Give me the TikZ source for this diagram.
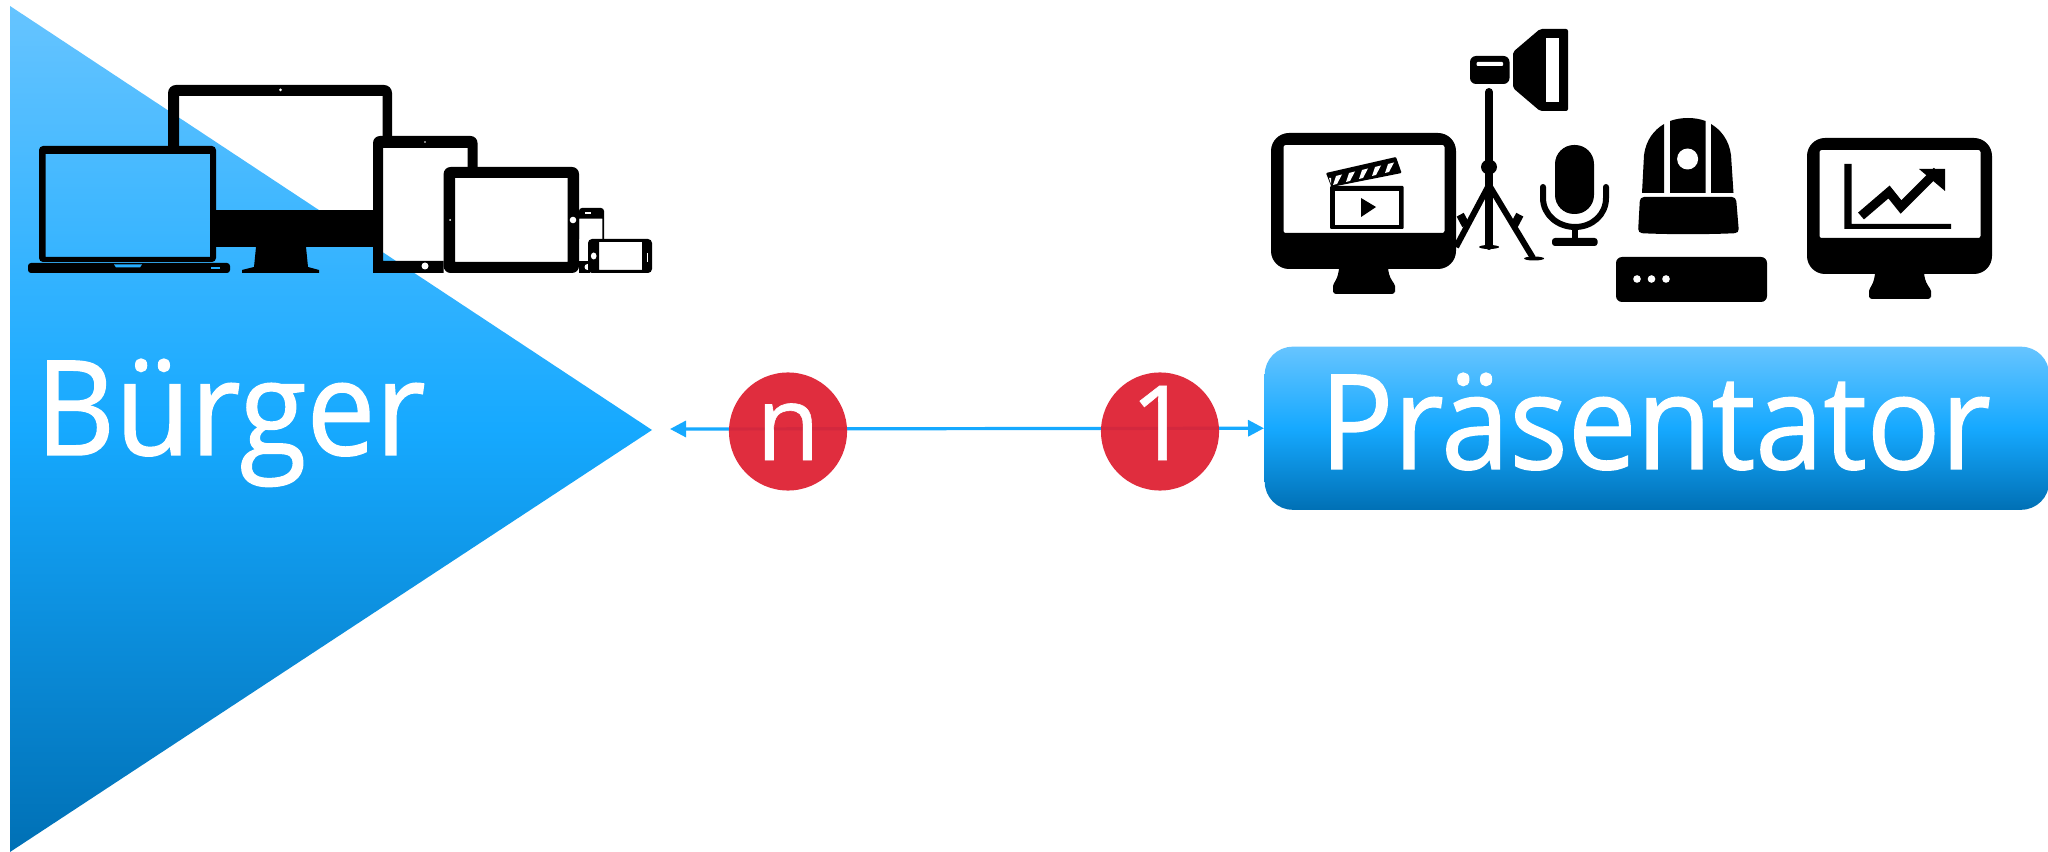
\documentclass[tikz,border=0pt]{standalone}
\usepackage{fontspec}
\setmainfont{Open Sans}
\newfontfamily\wordface[FakeBold=1,FakeStretch=0.93]{Open Sans}
\newfontfamily\badgeface[FakeBold=0.6]{Open Sans}
\usetikzlibrary{arrows.meta}
\definecolor{bluetop}{HTML}{66C4FF}
\definecolor{bluemid}{HTML}{16A9FF}
\definecolor{bluelow}{HTML}{0070B5}
\definecolor{badgered}{HTML}{DE2234}
\tikzset{
    bigword/.style={text=white,font=\wordface\fontsize{37.5}{40}\selectfont,inner sep=0pt,anchor=base west},
    badge/.style={circle,fill=badgered,fill opacity=0.95,text opacity=1,text=white,minimum size=1.18cm,inner sep=0pt,
        text height=0.57cm,text depth=0pt,font=\badgeface\fontsize{29.5}{32}\selectfont},
    linkline/.style={bluemid,line width=0.032cm,<->,>={Triangle[length=0.16cm,width=0.16cm]}},
    hole/.style={fill=white},
    monitor/.pic={
        \fill[even odd rule,rounded corners=0.18cm] (0,0) rectangle (185,136)
            [rounded corners=0.02cm] (12.5,12) rectangle (173.5,100);
        \fill[rounded corners=0.03cm] (68,130) .. controls (68,146) and (62,150) .. (62,156) -- (62,161) -- (124,161) -- (124,156)
            .. controls (124,150) and (117,146) .. (117,130) -- cycle;
    }
}
\begin{document}
\begin{tikzpicture}[x=0.01cm,y=-0.01cm]
    \useasboundingbox (0,0) rectangle (2048,852);
    \shade[top color=bluetop,bottom color=bluelow,middle color=bluemid] (10,6) -- (652,430) -- (10,852) -- cycle;
    \node[bigword] (buerger) at (35,455) {Bürger};

    \fill[rounded corners=0.08cm] (168,146) -- (168,85) -- (392,85) [sharp corners] -- (392,136) -- (382.5,136) -- (382.5,96) -- (179,96) -- (179,146) -- cycle;
    \fill (216,210) rectangle (373,247);
    \fill (256,247) -- (306,247) -- (308,267) -- (319,270) -- (319,273) -- (242,273) -- (242,270) -- (254,267) -- cycle;
    \fill[hole] (280.5,90) circle[radius=1.5];
    \fill[even odd rule,rounded corners=0.04cm] (39,146) rectangle (216,262) [sharp corners] (45.5,154) rectangle (210,257);
    \fill[rounded corners=0.03cm] (28,263) rectangle (230,273);
    \fill[bluemid!80!bluetop] (114,264.5) -- (142,264.5) -- (140,267.5) -- (116,267.5) -- cycle;
    \fill[bluemid!80!bluetop] (211,267) rectangle (220,269);

    \fill[rounded corners=0.07cm] (373,273) -- (373,136) -- (477.5,136) [sharp corners] -- (477.5,167) -- (467.5,167) -- (467.5,148) -- (383,148) -- (383,261) -- (443.6,261) -- (443.6,273) -- cycle;
    \fill[hole] (425,266) ellipse[x radius=3.5,y radius=3.5];
    \fill[hole] (425,142) circle[radius=0.8];
    \fill[even odd rule,rounded corners=0.07cm] (443.6,167) rectangle (579,273) [sharp corners] (455,178) rectangle (567.7,262);
    \fill[hole] (573,220) circle[radius=3.3];
    \fill[hole] (450,220) circle[radius=1];
    \fill[rounded corners=0.03cm] (579,239) -- (579,208) -- (604,208) [sharp corners] -- (604,239) -- (602.4,239) -- (602.4,218.7) -- (579,218.7) -- cycle;
    \fill[hole] (584.5,212.5) rectangle (591,214);
    \fill (579,261) rectangle (590,273);
    \fill[hole] (587.5,267) circle[radius=3];
    \fill[even odd rule,rounded corners=0.04cm] (588,239) rectangle (652,273) [sharp corners] (599,242) rectangle (642,270);
    \fill[hole] (593.7,256) ellipse[x radius=2.8,y radius=3.5];
    \fill[hole] (646.5,253) rectangle (647.5,262);

    \node[anchor=north west,inner sep=0pt,minimum width=7.84cm,minimum height=1.63cm,rounded corners=0.28cm,
        top color=bluetop,bottom color=bluelow,middle color=bluemid] (presenterbox) at (1264,346) {};
    \node[bigword] (praesentator) at (1319,469) {Präsentator};

    \coordinate (burgerend) at (670,429);
    \draw[linkline] (burgerend) -- (presenterbox.west);
    \node[badge] (many) at (788,431.5) {n};
    \node[badge] (one) at (1160,431.5) {1};

    \pic at (1271,133) {monitor};
    \pic at (1807,138) {monitor};

    \fill[rounded corners=0.01cm] (1330,186) rectangle (1403.7,229);
    \fill[hole] (1335,191) rectangle (1399,225);
    \fill (1361,198) -- (1376,207) -- (1361,217) -- cycle;
    \fill[rounded corners=0.01cm] (1326,173) -- (1396,157) -- (1401.6,173) -- (1331.4,187) -- cycle;
    \foreach \i in {0,1,2,3,4}
        \fill[hole] ({1336+\i*13},{176-\i*3}) -- ({1342+\i*13},{174.5-\i*3}) -- ({1337+\i*13},{184-\i*3}) -- ({1333+\i*13},{185-\i*3}) -- cycle;
    \fill[hole] (1329,178) -- (1331,178) -- (1331,184) -- cycle;

    \draw[line width=0.08cm,line cap=round] (1489,92) -- (1489,246);
    \fill (1489,167) ellipse[x radius=8,y radius=7.5];
    \draw[line width=0.06cm] (1489,185) -- (1456,247);
    \draw[line width=0.06cm] (1489,185) -- (1533,258);
    \fill (1534,258.5) ellipse[x radius=10,y radius=2];
    \fill (1489,247) ellipse[x radius=10,y radius=2];
    \fill[rotate around={28:(1463,220)}] (1459,214) rectangle (1467,226);
    \fill[rotate around={-28:(1517,220)}] (1513,214) rectangle (1521,226);

    \fill[rounded corners=0.06cm] (1470,56) rectangle (1509.5,84);
    \fill[hole,rounded corners=0.01cm] (1476.5,62) rectangle (1503,66);
    \fill[rounded corners=0.02cm] (1513,52) -- (1540,29) -- (1568,29) -- (1568,111) -- (1540,111) -- (1513,88) -- cycle;
    \fill[hole] (1546,38) rectangle (1559.4,102);

    \fill[rounded corners=0.19cm] (1555,145) rectangle (1594,214);
    \draw[line width=0.06cm,line cap=round] (1543,187) -- (1543,198) .. controls (1543,215) and (1558,227) .. (1575,227) .. controls (1592,227) and (1606,215) .. (1606,198) -- (1606,187);
    \fill (1572,229) rectangle (1578,240);
    \fill[rounded corners=0.03cm] (1552,238) rectangle (1597.6,246);

    \fill (1642,193) -- (1644,155) .. controls (1646,140) and (1654,130) .. (1664,124) -- (1664,193) -- cycle;
    \fill (1670,193) -- (1670,121) .. controls (1681,117) and (1695,117) .. (1705.5,121) -- (1705.5,193) -- cycle;
    \fill (1733.5,193) -- (1731,155) .. controls (1729,140) and (1721,130) .. (1711,124) -- (1711,193) -- cycle;
    \fill[hole] (1687.6,159) ellipse[x radius=10.5,y radius=10.5];
    \fill[rounded corners=0.04cm] (1640,197) -- (1736,197) -- (1739,233) .. controls (1710,234.5) and (1666,234.5) .. (1638,233) -- cycle;

    \fill[rounded corners=0.06cm] (1616,257) rectangle (1767,302);
    \foreach \x in {1637,1651.5,1666}
        \fill[hole] (\x,279) circle[radius=3.8];

    \fill (1844.4,164) -- (1851.5,164) -- (1851.5,224) -- (1951,224) -- (1951,229) -- (1844.4,229) -- cycle;
    \draw[line width=0.09cm,line join=miter] (1861,216) -- (1889,192) -- (1901,207) -- (1937,171);
    \fill (1919,169) -- (1945,169) -- (1945,191) -- cycle;
\end{tikzpicture}
\end{document}
